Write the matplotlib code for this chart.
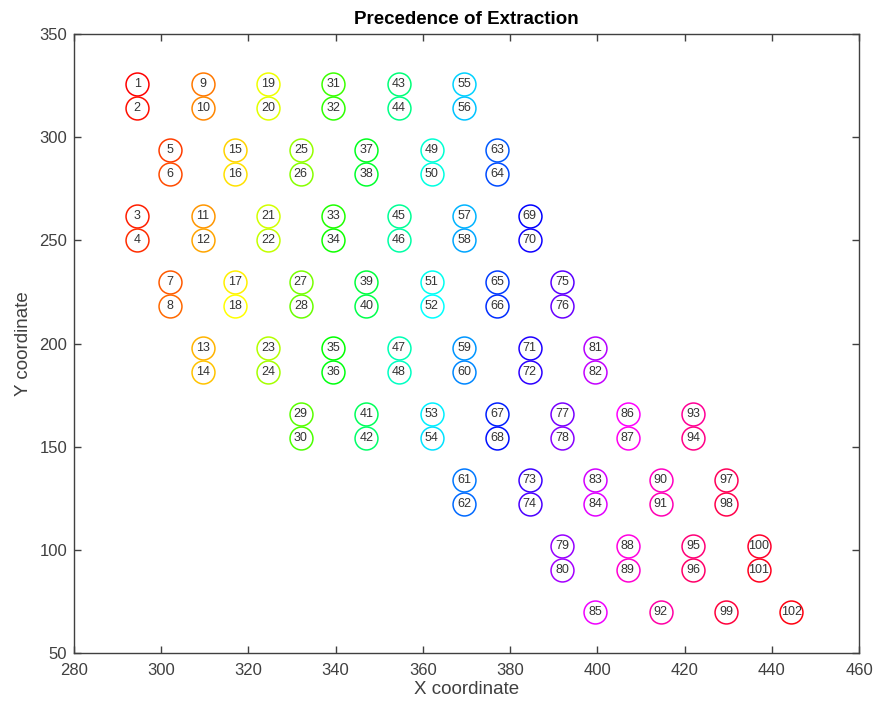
import colorsys
import matplotlib
matplotlib.use("Agg")
import matplotlib.pyplot as plt

labels = list(range(1, 103))
x_vals = [294.5, 294.5, 294.5, 294.5,
          302, 302, 302, 302,
          309.5, 309.5, 309.5, 309.5, 309.5, 309.5,
          317, 317, 317, 317,
          324.5, 324.5, 324.5, 324.5, 324.5, 324.5,
          332, 332, 332, 332, 332, 332,
          339.5, 339.5, 339.5, 339.5, 339.5, 339.5,
          347, 347, 347, 347, 347, 347,
          354.5, 354.5, 354.5, 354.5, 354.5, 354.5,
          362, 362, 362, 362, 362, 362,
          369.5, 369.5, 369.5, 369.5, 369.5, 369.5, 369.5, 369.5,
          377, 377, 377, 377, 377, 377,
          384.5, 384.5, 384.5, 384.5, 384.5, 384.5,
          392, 392, 392, 392, 392, 392,
          399.5, 399.5, 399.5, 399.5, 399.5,
          407, 407, 407, 407,
          414.5, 414.5, 414.5,
          422, 422, 422, 422,
          429.5, 429.5, 429.5,
          437, 437,
          444.5]
y_vals = [326, 314, 262, 250,
          294, 282, 230, 218,
          326, 314, 262, 250, 198, 186,
          294, 282, 230, 218,
          326, 314, 262, 250, 198, 186,
          294, 282, 230, 218, 166, 154,
          326, 314, 262, 250, 198, 186,
          294, 282, 230, 218, 166, 154,
          326, 314, 262, 250, 198, 186,
          294, 282, 230, 218, 166, 154,
          326, 314, 262, 250, 198, 186, 134, 122,
          294, 282, 230, 218, 166, 154,
          262, 250, 198, 186, 134, 122,
          230, 218, 166, 154, 102, 90,
          198, 186, 134, 122, 70,
          166, 154, 102, 90,
          134, 122, 70,
          166, 154, 102, 90,
          134, 122, 70,
          102, 90,
          70]

plt.rcParams['font.family'] = ['Liberation Sans', 'DejaVu Sans']

fig = plt.figure(figsize=(8.76, 7.08), dpi=100)
ax = fig.add_axes([74/876, 1-653/708, (859-74)/876, (653-34)/708])

n = len(labels)
for i, (lab, x, y) in enumerate(zip(labels, x_vals, y_vals)):
    c = colorsys.hsv_to_rgb(i / n, 1, 1)
    ax.plot(x, y, 'o', ms=16.5, mfc='none', mec=c, mew=1.1)
    ax.text(x, y, str(lab), ha='center', va='center', fontsize=9, color='#333333')

ax.set_xlim(280, 460)
ax.set_ylim(50, 350)
ax.set_xticks(range(280, 461, 20))
ax.set_yticks(range(50, 351, 50))
gray = '#404040'
for s in ax.spines.values():
    s.set_color(gray)
    s.set_linewidth(1.0)
ax.tick_params(direction='in', top=True, right=True, length=5, width=1,
               colors=gray, labelsize=12, labelcolor=gray)
ax.tick_params(axis='x', pad=7)
ax.tick_params(axis='y', pad=5)
ax.set_xlabel('X coordinate', fontsize=13.5, color=gray, labelpad=2)
ax.set_ylabel('Y coordinate', fontsize=13.5, color=gray, labelpad=5)
ax.set_title('Precedence of Extraction', fontsize=13.5, fontweight='bold', pad=7)

fig.savefig('out.png', dpi=100)
